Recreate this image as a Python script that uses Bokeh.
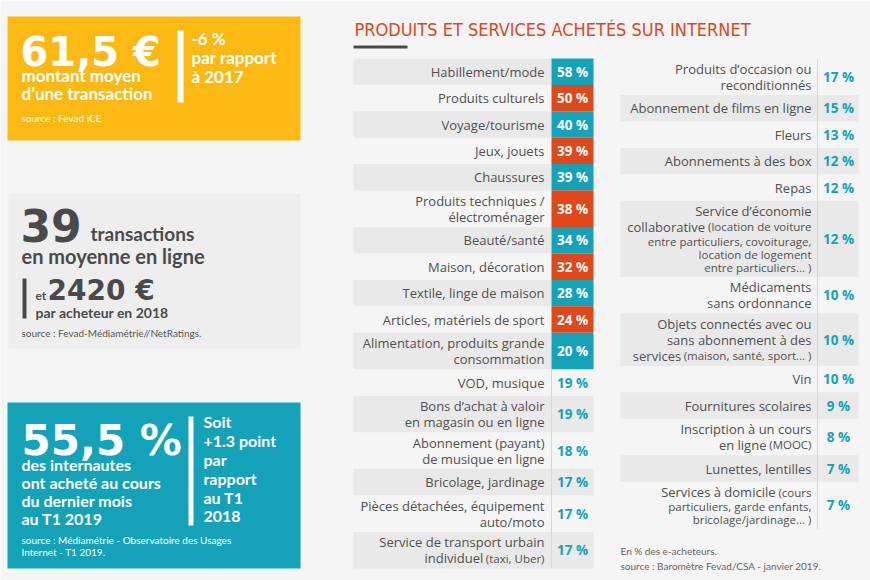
from bokeh.plotting import figure
from bokeh.models import Range1d, ColumnDataSource
from bokeh.core.properties import value
from bokeh.embed import file_html
from bokeh.resources import INLINE

# ---------------- data ----------------
col1_labels = [
    "Habillement/mode", "Produits culturels", "Voyage/tourisme", "Jeux, jouets",
    "Chaussures", "Produits techniques /\nélectroménager", "Beauté/santé",
    "Maison, décoration", "Textile, linge de maison", "Articles, matériels de sport",
    "Alimentation, produits grande\nconsommation", "VOD, musique",
    "Bons d’achat à valoir\nen magasin ou en ligne",
    "Abonnement (payant)\nde musique en ligne", "Bricolage, jardinage",
    "Pièces détachées, équipement\nauto/moto",
    "Service de transport urbain\nindividuel |(taxi, Uber)",
]
col1_values = [58, 50, 40, 39, 39, 38, 34, 32, 28, 24, 20, 19, 19, 18, 17, 17, 17]
col1_fill = ["teal", "orange", "teal", "orange", "teal", "orange", "teal",
             "orange", "teal", "orange", "teal", None, None, None, None, None, None]

col2_labels = [
    "Produits d’occasion ou\nreconditionnés", "Abonnement de films en ligne", "Fleurs",
    "Abonnements à des box", "Repas",
    "Service d’économie\ncollaborative |(location de voiture\nentre particuliers, covoiturage,\nlocation de logement\nentre particuliers... )",
    "Médicaments\nsans ordonnance",
    "Objets connectés avec ou\nsans abonnement à des\nservices |(maison, santé, sport... )",
    "Vin", "Fournitures scolaires", "Inscription à un cours\nen ligne |(MOOC)",
    "Lunettes, lentilles",
    "Services à domicile |(cours\nparticuliers, garde enfants,\nbricolage/jardinage... )",
]
col2_values = [17, 15, 13, 12, 12, 12, 10, 10, 10, 9, 8, 7, 7]

title_text = "PRODUITS ET SERVICES ACHETÉS SUR INTERNET"

# ---------------- style ----------------
BG = "#f5f5f5"
BAND = "#e9e9e9"
TEAL = "#14a2b8"
ORANGE = "#e0481a"
YELLOW = "#fdb913"
DARK = "#4a4a4a"
LABEL = "#505050"
TITLE = "#e0461b"
BIG = "DejaVu Sans"

MAIN_PX, SMALL_PX = 13, 11.5
LH_MAIN, LH_SMALL, PAD, ROW_MIN = 15.8, 13.2, 5, 26.4

W = {' ': .26, '(': .271, ')': .271, ',': .243, '.': .266, '/': .367,
     'a': .556, 'b': .613, 'c': .476, 'd': .613, 'e': .561, 'é': .561, 'f': .339,
     'g': .548, 'h': .614, 'i': .253, 'k': .525, 'l': .253, 'm': .93, 'n': .614,
     'o': .604, 'p': .613, 'r': .408, 's': .477, 't': .353, 'u': .614, 'v': .501,
     'x': .524, 'y': .502, 'U': .73, 'M': .903, 'O': .781, 'C': .632}


def text_width(s, px):
    return sum(W.get(ch, .55) for ch in s) * px


def parse(label):
    lines, small = [], False
    for ln in label.split("\n"):
        if small:
            lines.append(("", ln))
        elif "|" in ln:
            a, b = ln.split("|")
            lines.append((a.rstrip(), b.strip()))
            small = True
        else:
            lines.append((ln, ""))
    return lines


p = figure(width=870, height=580, x_range=Range1d(0, 870), y_range=Range1d(580, 0),
           output_backend="svg", toolbar_location=None, min_border=0,
           x_axis_location=None, y_axis_location=None,
           background_fill_color=BG, border_fill_color=BG)
p.grid.visible = False
p.outline_line_color = None


def txt(x, b, s, size, color, font="Lato", style="normal", align="left", k=0.387):
    # b = baseline position; text is placed by its middle
    px = float(size.replace("px", ""))
    p.text(x=[x], y=[b - k * px], text=[s], text_font=value(font), text_font_size=size,
           text_color=color, text_font_style=style, text_align=align, text_baseline="middle")


def big(x, b, s, size, color):
    txt(x, b, s, size, color, font=BIG, style="bold", k=0.346)


# ---------------- left boxes ----------------
p.quad(left=[7], right=[300], top=[16], bottom=[140], fill_color=YELLOW, line_color=None)
p.quad(left=[177], right=[183], top=[30], bottom=[102], fill_color="white", line_color=None)
big(20, 65, "61,5 €", "40px", "white")
txt(21, 82, "montant moyen", "17px", "white", style="bold")
txt(21, 100, "d’une transaction", "17px", "white", style="bold")
txt(191, 45, "-6 %", "17px", "white", style="bold")
txt(191, 64, "par rapport", "17px", "white", style="bold")
txt(191, 83, "à 2017", "17px", "white", style="bold")
txt(21, 121, "source : Fevad iCE", "10px", "white")

p.quad(left=[8], right=[300], top=[193], bottom=[348], fill_color="#eeeeee", line_color=None)
big(20, 240, "39", "44px", DARK)
txt(90, 240, "transactions", "19px", DARK, style="bold")
txt(21, 263, "en moyenne en ligne", "20px", DARK, style="bold")
p.quad(left=[22], right=[26], top=[278], bottom=[318], fill_color=DARK, line_color=None)
txt(35, 300, "et", "12px", DARK, style="bold")
big(47, 300, "2420 €", "28px", DARK)
txt(35, 317, "par acheteur en 2018", "14px", DARK, style="bold")
txt(21, 336, "source : Fevad-Médiamétrie//NetRatings.", "10px", "#555555")

p.quad(left=[7], right=[300], top=[402], bottom=[568], fill_color=TEAL, line_color=None)
p.quad(left=[188], right=[193], top=[416], bottom=[525], fill_color="white", line_color=None)
big(21, 455, "55,5 %", "42px", "white")
for i, s in enumerate(["des internautes", "ont acheté au cours", "du dernier mois", "au T1 2019"]):
    txt(21, 470 + i * 18, s, "16px", "white", style="bold")
for i, s in enumerate(["Soit", "+1.3 point", "par", "rapport", "au T1", "2018"]):
    txt(203, 427 + i * 19, s, "16px", "white", style="bold")
txt(21, 543, "source : Médiamétrie - Observatoire des Usages", "10px", "white")
txt(21, 555, "Internet - T1 2019.", "10px", "white")

# ---------------- title ----------------
txt(354, 35, title_text, "18px", TITLE, font="DejaVu Sans Condensed", k=0.36)
p.quad(left=[353], right=[407], top=[45], bottom=[48], fill_color=DARK, line_color=None)


# ---------------- tables ----------------
def build(labels, values, fills, top, x0, xsep, x1, label_right, vcenter, band_first):
    band = dict(l=[], r=[], t=[], b=[])
    cell = dict(l=[], r=[], t=[], b=[], c=[])
    main = dict(x=[], y=[], s=[])
    small = dict(x=[], y=[], s=[])
    vals = dict(x=[], y=[], s=[], c=[])
    nfill = sum(1 for f in (fills or []) if f)
    ytop = top
    y = top
    for i, (lab, v) in enumerate(zip(labels, values)):
        lines = parse(lab)
        hts = [LH_MAIN if m else LH_SMALL for m, s in lines]
        h = max(ROW_MIN, sum(hts) + PAD)
        f = fills[i] if fills else None
        if i == nfill:
            ytop = y
        if (i % 2 == 0) == band_first:
            band["l"].append(x0); band["r"].append(xsep if f else x1)
            band["t"].append(y); band["b"].append(y + h)
        if f:
            cell["l"].append(xsep); cell["r"].append(x1)
            cell["t"].append(y); cell["b"].append(y + h)
            cell["c"].append(TEAL if f == "teal" else ORANGE)
        cy = y + h / 2
        ly = cy - sum(hts) / 2
        for (m, s), lh in zip(lines, hts):
            yc = ly + lh / 2
            if s:
                small["x"].append(label_right); small["y"].append(yc); small["s"].append(s)
            if m:
                shift = (text_width(s, SMALL_PX) + 3.2) if s else 0
                main["x"].append(label_right - shift)
                main["y"].append(yc); main["s"].append(m)
            ly += lh
        vals["x"].append(vcenter); vals["y"].append(cy); vals["s"].append(f"{v} %")
        vals["c"].append("white" if f else TEAL)
        y += h
    p.quad(left="l", right="r", top="t", bottom="b", source=ColumnDataSource(band),
           fill_color=BAND, line_color=None)
    if cell["l"]:
        p.quad(left="l", right="r", top="t", bottom="b", source=ColumnDataSource(cell),
               fill_color="c", line_color=None)
    p.segment(x0=[xsep], y0=[ytop], x1=[xsep], y1=[y], line_color="#d6d6d6", line_width=1)
    p.text(x="x", y="y", text="s", source=ColumnDataSource(main), text_font=value("Open Sans"),
           text_font_size=f"{MAIN_PX}px", text_color=LABEL, text_align="right", text_baseline="middle")
    p.text(x="x", y="y", text="s", source=ColumnDataSource(small), text_font=value("Open Sans"),
           text_font_size=f"{SMALL_PX}px", text_color=LABEL, text_align="right", text_baseline="middle")
    p.text(x="x", y="y", text="s", source=ColumnDataSource(vals), text_font=value("Open Sans"),
           text_font_size="13.5px", text_font_style="bold", text_color="c",
           text_align="center", text_baseline="middle")


build(col1_labels, col1_values, col1_fill, 58, 353, 551, 593, 544, 572, True)
build(col2_labels, col2_values, None, 58, 620, 817, 858, 811, 838, False)

txt(620, 554, "En % des e-acheteurs.", "10px", "#666666")
txt(620, 569, "source : Baromètre Fevad/CSA - janvier 2019.", "10px", "#666666")

open("out.html", "w").write(file_html(p, INLINE))
